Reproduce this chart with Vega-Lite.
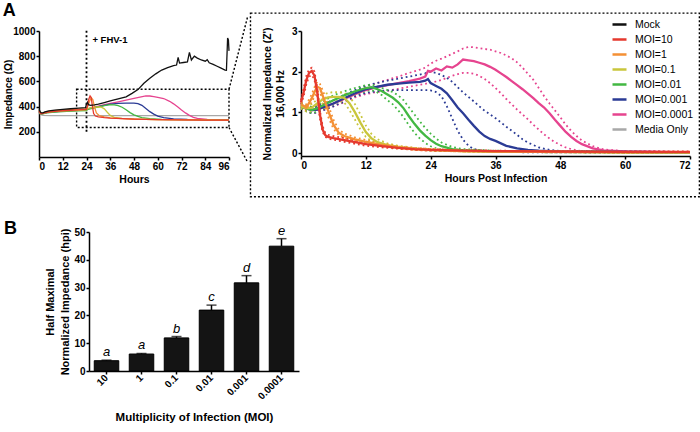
{
"$schema": "https://vega.github.io/schema/vega-lite/v6.json",
"background": "white",
"padding": {"left": 2, "top": 2, "right": 0, "bottom": 0},
"config": {
  "font": "Liberation Sans",
  "view": {"stroke": null},
  "axis": {"grid": false, "labelOverlap": false, "domainColor": "black", "domainWidth": 1.5, "tickColor": "black", "tickWidth": 1.5, "tickSize": 3, "labelPadding": 1, "labelFont": "Liberation Sans", "labelFontWeight": "bold", "labelFontSize": 10, "labelColor": "black", "titleFont": "Liberation Sans", "titleFontWeight": "bold", "titleFontSize": 10.5, "titleColor": "black"},
  "title": {"font": "Liberation Sans", "fontWeight": "bold", "fontSize": 18, "color": "black", "anchor": "start"}
},
"datasets": {
  "left": [
    {"g":"Media Only","h":0,"z":350},{"g":"Media Only","h":1,"z":335},{"g":"Media Only","h":2,"z":330},{"g":"Media Only","h":6,"z":328},{"g":"Media Only","h":24,"z":328},{"g":"Media Only","h":48,"z":328},{"g":"Media Only","h":72,"z":328},{"g":"Media Only","h":96,"z":328},
    {"g":"MOI=0.0001","h":0,"z":358},{"g":"MOI=0.0001","h":1,"z":342},{"g":"MOI=0.0001","h":2,"z":344},{"g":"MOI=0.0001","h":4,"z":352},{"g":"MOI=0.0001","h":8,"z":359},{"g":"MOI=0.0001","h":12,"z":364},{"g":"MOI=0.0001","h":16,"z":367},{"g":"MOI=0.0001","h":20,"z":370},{"g":"MOI=0.0001","h":24,"z":372},{"g":"MOI=0.0001","h":24.5,"z":381},{"g":"MOI=0.0001","h":27,"z":392},{"g":"MOI=0.0001","h":30,"z":404},{"g":"MOI=0.0001","h":33,"z":415},{"g":"MOI=0.0001","h":36,"z":425},{"g":"MOI=0.0001","h":40,"z":438},{"g":"MOI=0.0001","h":44,"z":452},{"g":"MOI=0.0001","h":48,"z":466},{"g":"MOI=0.0001","h":51,"z":476},{"g":"MOI=0.0001","h":54,"z":485},{"g":"MOI=0.0001","h":56,"z":484},{"g":"MOI=0.0001","h":58,"z":480},{"g":"MOI=0.0001","h":60,"z":474},{"g":"MOI=0.0001","h":63,"z":464},{"g":"MOI=0.0001","h":66,"z":442},{"g":"MOI=0.0001","h":68,"z":422},{"g":"MOI=0.0001","h":70,"z":398},{"g":"MOI=0.0001","h":72,"z":373},{"g":"MOI=0.0001","h":74,"z":350},{"g":"MOI=0.0001","h":76,"z":330},{"g":"MOI=0.0001","h":78,"z":315},{"g":"MOI=0.0001","h":80,"z":306},{"g":"MOI=0.0001","h":85,"z":299},{"g":"MOI=0.0001","h":96,"z":296},
    {"g":"MOI=0.001","h":0,"z":360},{"g":"MOI=0.001","h":1,"z":344},{"g":"MOI=0.001","h":2,"z":346},{"g":"MOI=0.001","h":4,"z":354},{"g":"MOI=0.001","h":8,"z":361},{"g":"MOI=0.001","h":12,"z":365},{"g":"MOI=0.001","h":16,"z":368},{"g":"MOI=0.001","h":20,"z":371},{"g":"MOI=0.001","h":24,"z":373},{"g":"MOI=0.001","h":24.5,"z":382},{"g":"MOI=0.001","h":27,"z":390},{"g":"MOI=0.001","h":30,"z":400},{"g":"MOI=0.001","h":33,"z":410},{"g":"MOI=0.001","h":36,"z":419},{"g":"MOI=0.001","h":40,"z":425},{"g":"MOI=0.001","h":44,"z":427},{"g":"MOI=0.001","h":48,"z":427},{"g":"MOI=0.001","h":50,"z":424},{"g":"MOI=0.001","h":52,"z":410},{"g":"MOI=0.001","h":54,"z":385},{"g":"MOI=0.001","h":56,"z":360},{"g":"MOI=0.001","h":58,"z":340},{"g":"MOI=0.001","h":60,"z":325},{"g":"MOI=0.001","h":63,"z":312},{"g":"MOI=0.001","h":68,"z":302},{"g":"MOI=0.001","h":75,"z":298},{"g":"MOI=0.001","h":96,"z":294},
    {"g":"MOI=0.01","h":0,"z":355},{"g":"MOI=0.01","h":1,"z":340},{"g":"MOI=0.01","h":2,"z":342},{"g":"MOI=0.01","h":4,"z":350},{"g":"MOI=0.01","h":8,"z":357},{"g":"MOI=0.01","h":12,"z":361},{"g":"MOI=0.01","h":16,"z":364},{"g":"MOI=0.01","h":20,"z":366},{"g":"MOI=0.01","h":24,"z":368},{"g":"MOI=0.01","h":24.5,"z":378},{"g":"MOI=0.01","h":27,"z":386},{"g":"MOI=0.01","h":30,"z":398},{"g":"MOI=0.01","h":33,"z":408},{"g":"MOI=0.01","h":36,"z":416},{"g":"MOI=0.01","h":38,"z":414},{"g":"MOI=0.01","h":40,"z":408},{"g":"MOI=0.01","h":42,"z":395},{"g":"MOI=0.01","h":44,"z":375},{"g":"MOI=0.01","h":46,"z":352},{"g":"MOI=0.01","h":48,"z":335},{"g":"MOI=0.01","h":50,"z":322},{"g":"MOI=0.01","h":52,"z":313},{"g":"MOI=0.01","h":56,"z":304},{"g":"MOI=0.01","h":62,"z":299},{"g":"MOI=0.01","h":72,"z":296},{"g":"MOI=0.01","h":96,"z":293},
    {"g":"MOI=0.1","h":0,"z":362},{"g":"MOI=0.1","h":1,"z":345},{"g":"MOI=0.1","h":2,"z":347},{"g":"MOI=0.1","h":4,"z":355},{"g":"MOI=0.1","h":8,"z":362},{"g":"MOI=0.1","h":12,"z":366},{"g":"MOI=0.1","h":16,"z":369},{"g":"MOI=0.1","h":20,"z":371},{"g":"MOI=0.1","h":24,"z":374},{"g":"MOI=0.1","h":24.5,"z":385},{"g":"MOI=0.1","h":26,"z":390},{"g":"MOI=0.1","h":28,"z":395},{"g":"MOI=0.1","h":30,"z":398},{"g":"MOI=0.1","h":31.5,"z":396},{"g":"MOI=0.1","h":33,"z":382},{"g":"MOI=0.1","h":34.5,"z":355},{"g":"MOI=0.1","h":36,"z":330},{"g":"MOI=0.1","h":38,"z":315},{"g":"MOI=0.1","h":42,"z":306},{"g":"MOI=0.1","h":48,"z":300},{"g":"MOI=0.1","h":60,"z":296},{"g":"MOI=0.1","h":96,"z":293},
    {"g":"MOI=1","h":0,"z":370},{"g":"MOI=1","h":0.5,"z":356},{"g":"MOI=1","h":1,"z":348},{"g":"MOI=1","h":2,"z":350},{"g":"MOI=1","h":4,"z":360},{"g":"MOI=1","h":8,"z":368},{"g":"MOI=1","h":12,"z":373},{"g":"MOI=1","h":16,"z":377},{"g":"MOI=1","h":20,"z":380},{"g":"MOI=1","h":24,"z":383},{"g":"MOI=1","h":24.6,"z":400},{"g":"MOI=1","h":25.5,"z":440},{"g":"MOI=1","h":26.4,"z":470},{"g":"MOI=1","h":27.2,"z":455},{"g":"MOI=1","h":28,"z":400},{"g":"MOI=1","h":29,"z":350},{"g":"MOI=1","h":30.5,"z":328},{"g":"MOI=1","h":33,"z":318},{"g":"MOI=1","h":36,"z":310},{"g":"MOI=1","h":42,"z":304},{"g":"MOI=1","h":48,"z":300},{"g":"MOI=1","h":60,"z":296},{"g":"MOI=1","h":72,"z":294},{"g":"MOI=1","h":96,"z":293},
    {"g":"MOI=10","h":0,"z":365},{"g":"MOI=10","h":0.5,"z":350},{"g":"MOI=10","h":1,"z":343},{"g":"MOI=10","h":2,"z":346},{"g":"MOI=10","h":4,"z":355},{"g":"MOI=10","h":8,"z":362},{"g":"MOI=10","h":12,"z":367},{"g":"MOI=10","h":16,"z":371},{"g":"MOI=10","h":20,"z":374},{"g":"MOI=10","h":24,"z":378},{"g":"MOI=10","h":24.5,"z":410},{"g":"MOI=10","h":25.2,"z":460},{"g":"MOI=10","h":25.8,"z":485},{"g":"MOI=10","h":26.4,"z":470},{"g":"MOI=10","h":27,"z":400},{"g":"MOI=10","h":27.6,"z":345},{"g":"MOI=10","h":28.5,"z":325},{"g":"MOI=10","h":30,"z":318},{"g":"MOI=10","h":33,"z":312},{"g":"MOI=10","h":36,"z":308},{"g":"MOI=10","h":42,"z":304},{"g":"MOI=10","h":48,"z":300},{"g":"MOI=10","h":60,"z":296},{"g":"MOI=10","h":72,"z":294},{"g":"MOI=10","h":84,"z":293},{"g":"MOI=10","h":96,"z":293},
    {"g":"Mock","h":0,"z":378},{"g":"Mock","h":0.5,"z":362},{"g":"Mock","h":1,"z":352},{"g":"Mock","h":2,"z":350},{"g":"Mock","h":3,"z":358},{"g":"Mock","h":5,"z":366},{"g":"Mock","h":8,"z":372},{"g":"Mock","h":12,"z":378},{"g":"Mock","h":16,"z":383},{"g":"Mock","h":20,"z":388},{"g":"Mock","h":23.5,"z":392},{"g":"Mock","h":24,"z":420},{"g":"Mock","h":24.5,"z":434},{"g":"Mock","h":25,"z":415},{"g":"Mock","h":26,"z":410},{"g":"Mock","h":28,"z":413},{"g":"Mock","h":30,"z":420},{"g":"Mock","h":33,"z":432},{"g":"Mock","h":36,"z":445},{"g":"Mock","h":40,"z":462},{"g":"Mock","h":44,"z":478},{"g":"Mock","h":47,"z":505},{"g":"Mock","h":50,"z":535},{"g":"Mock","h":53,"z":585},{"g":"Mock","h":56,"z":625},{"g":"Mock","h":59,"z":660},{"g":"Mock","h":62,"z":690},{"g":"Mock","h":65,"z":710},{"g":"Mock","h":68,"z":725},{"g":"Mock","h":69.5,"z":730},{"g":"Mock","h":70.3,"z":790},{"g":"Mock","h":71,"z":745},{"g":"Mock","h":73,"z":750},{"g":"Mock","h":75,"z":755},{"g":"Mock","h":76,"z":830},{"g":"Mock","h":77,"z":770},{"g":"Mock","h":78.5,"z":800},{"g":"Mock","h":80,"z":785},{"g":"Mock","h":82,"z":770},{"g":"Mock","h":84,"z":760},{"g":"Mock","h":85,"z":772},{"g":"Mock","h":86,"z":748},{"g":"Mock","h":88,"z":735},{"g":"Mock","h":90,"z":720},{"g":"Mock","h":92,"z":705},{"g":"Mock","h":94,"z":690},{"g":"Mock","h":94.7,"z":688},{"g":"Mock","h":95.3,"z":945},{"g":"Mock","h":95.7,"z":930},{"g":"Mock","h":96,"z":842}
  ],
  "right": [
    {"g":"MOI=0.0001","t":0,"m":1.15,"lo":1.1,"hi":1.2},{"g":"MOI=0.0001","t":1,"m":1.1,"lo":1.03,"hi":1.17},{"g":"MOI=0.0001","t":2,"m":1.06,"lo":0.98,"hi":1.13},{"g":"MOI=0.0001","t":3,"m":1.07,"lo":1.0,"hi":1.14},{"g":"MOI=0.0001","t":4,"m":1.12,"lo":1.05,"hi":1.2},{"g":"MOI=0.0001","t":6,"m":1.22,"lo":1.15,"hi":1.3},{"g":"MOI=0.0001","t":8,"m":1.33,"lo":1.25,"hi":1.42},{"g":"MOI=0.0001","t":10,"m":1.45,"lo":1.37,"hi":1.52},{"g":"MOI=0.0001","t":12,"m":1.55,"lo":1.45,"hi":1.63},{"g":"MOI=0.0001","t":14,"m":1.62,"lo":1.5,"hi":1.72},{"g":"MOI=0.0001","t":16,"m":1.67,"lo":1.53,"hi":1.8},{"g":"MOI=0.0001","t":18,"m":1.72,"lo":1.58,"hi":1.88},{"g":"MOI=0.0001","t":20,"m":1.77,"lo":1.63,"hi":1.97},{"g":"MOI=0.0001","t":22,"m":1.83,"lo":1.68,"hi":2.05},{"g":"MOI=0.0001","t":23,"m":1.88,"lo":1.7,"hi":2.1},{"g":"MOI=0.0001","t":23.5,"m":2.02,"lo":1.72,"hi":2.15},{"g":"MOI=0.0001","t":24,"m":2.0,"lo":1.72,"hi":2.2},{"g":"MOI=0.0001","t":25,"m":2.08,"lo":1.76,"hi":2.27},{"g":"MOI=0.0001","t":26,"m":2.03,"lo":1.8,"hi":2.32},{"g":"MOI=0.0001","t":27,"m":2.13,"lo":1.85,"hi":2.38},{"g":"MOI=0.0001","t":28,"m":2.1,"lo":1.9,"hi":2.44},{"g":"MOI=0.0001","t":29,"m":2.18,"lo":1.94,"hi":2.5},{"g":"MOI=0.0001","t":30,"m":2.3,"lo":1.97,"hi":2.57},{"g":"MOI=0.0001","t":31,"m":2.28,"lo":1.97,"hi":2.61},{"g":"MOI=0.0001","t":32,"m":2.26,"lo":1.95,"hi":2.6},{"g":"MOI=0.0001","t":33,"m":2.22,"lo":1.9,"hi":2.58},{"g":"MOI=0.0001","t":34,"m":2.18,"lo":1.82,"hi":2.56},{"g":"MOI=0.0001","t":35,"m":2.12,"lo":1.72,"hi":2.54},{"g":"MOI=0.0001","t":36,"m":2.05,"lo":1.6,"hi":2.5},{"g":"MOI=0.0001","t":37,"m":1.96,"lo":1.47,"hi":2.46},{"g":"MOI=0.0001","t":38,"m":1.87,"lo":1.33,"hi":2.4},{"g":"MOI=0.0001","t":39,"m":1.77,"lo":1.2,"hi":2.33},{"g":"MOI=0.0001","t":40,"m":1.67,"lo":1.07,"hi":2.23},{"g":"MOI=0.0001","t":41,"m":1.57,"lo":0.95,"hi":2.1},{"g":"MOI=0.0001","t":42,"m":1.46,"lo":0.83,"hi":1.95},{"g":"MOI=0.0001","t":43,"m":1.35,"lo":0.7,"hi":1.8},{"g":"MOI=0.0001","t":44,"m":1.23,"lo":0.58,"hi":1.6},{"g":"MOI=0.0001","t":45,"m":1.12,"lo":0.46,"hi":1.4},{"g":"MOI=0.0001","t":46,"m":0.98,"lo":0.36,"hi":1.22},{"g":"MOI=0.0001","t":47,"m":0.82,"lo":0.27,"hi":1.05},{"g":"MOI=0.0001","t":48,"m":0.67,"lo":0.2,"hi":0.88},{"g":"MOI=0.0001","t":49,"m":0.52,"lo":0.14,"hi":0.7},{"g":"MOI=0.0001","t":50,"m":0.4,"lo":0.1,"hi":0.55},{"g":"MOI=0.0001","t":51,"m":0.3,"lo":0.07,"hi":0.42},{"g":"MOI=0.0001","t":52,"m":0.22,"lo":0.05,"hi":0.31},{"g":"MOI=0.0001","t":54,"m":0.12,"lo":0.04,"hi":0.17},{"g":"MOI=0.0001","t":56,"m":0.07,"lo":0.03,"hi":0.09},{"g":"MOI=0.0001","t":60,"m":0.04,"lo":0.02,"hi":0.05},{"g":"MOI=0.0001","t":66,"m":0.03,"lo":0.01,"hi":0.04},{"g":"MOI=0.0001","t":72,"m":0.02,"lo":0.01,"hi":0.03},
    {"g":"MOI=0.001","t":0,"m":1.15,"lo":1.1,"hi":1.2},{"g":"MOI=0.001","t":1,"m":1.1,"lo":1.03,"hi":1.17},{"g":"MOI=0.001","t":2,"m":1.06,"lo":0.98,"hi":1.13},{"g":"MOI=0.001","t":3,"m":1.07,"lo":1.0,"hi":1.14},{"g":"MOI=0.001","t":4,"m":1.12,"lo":1.05,"hi":1.2},{"g":"MOI=0.001","t":6,"m":1.22,"lo":1.15,"hi":1.3},{"g":"MOI=0.001","t":8,"m":1.35,"lo":1.27,"hi":1.43},{"g":"MOI=0.001","t":10,"m":1.47,"lo":1.4,"hi":1.55},{"g":"MOI=0.001","t":12,"m":1.57,"lo":1.48,"hi":1.66},{"g":"MOI=0.001","t":14,"m":1.63,"lo":1.52,"hi":1.72},{"g":"MOI=0.001","t":16,"m":1.68,"lo":1.54,"hi":1.78},{"g":"MOI=0.001","t":18,"m":1.71,"lo":1.55,"hi":1.83},{"g":"MOI=0.001","t":20,"m":1.73,"lo":1.55,"hi":1.88},{"g":"MOI=0.001","t":22,"m":1.75,"lo":1.55,"hi":1.93},{"g":"MOI=0.001","t":23,"m":1.78,"lo":1.55,"hi":1.96},{"g":"MOI=0.001","t":23.5,"m":1.82,"lo":1.55,"hi":1.99},{"g":"MOI=0.001","t":24,"m":1.72,"lo":1.54,"hi":2.0},{"g":"MOI=0.001","t":25,"m":1.65,"lo":1.5,"hi":1.97},{"g":"MOI=0.001","t":26,"m":1.58,"lo":1.4,"hi":1.92},{"g":"MOI=0.001","t":27,"m":1.47,"lo":1.15,"hi":1.85},{"g":"MOI=0.001","t":28,"m":1.3,"lo":0.85,"hi":1.75},{"g":"MOI=0.001","t":29,"m":1.12,"lo":0.55,"hi":1.62},{"g":"MOI=0.001","t":30,"m":0.98,"lo":0.33,"hi":1.49},{"g":"MOI=0.001","t":31,"m":0.82,"lo":0.18,"hi":1.38},{"g":"MOI=0.001","t":32,"m":0.67,"lo":0.1,"hi":1.27},{"g":"MOI=0.001","t":33,"m":0.53,"lo":0.07,"hi":1.15},{"g":"MOI=0.001","t":34,"m":0.42,"lo":0.05,"hi":1.04},{"g":"MOI=0.001","t":35,"m":0.35,"lo":0.04,"hi":0.95},{"g":"MOI=0.001","t":36,"m":0.3,"lo":0.04,"hi":0.86},{"g":"MOI=0.001","t":38,"m":0.18,"lo":0.03,"hi":0.65},{"g":"MOI=0.001","t":40,"m":0.12,"lo":0.03,"hi":0.45},{"g":"MOI=0.001","t":41,"m":0.1,"lo":0.02,"hi":0.34},{"g":"MOI=0.001","t":42,"m":0.08,"lo":0.02,"hi":0.26},{"g":"MOI=0.001","t":44,"m":0.06,"lo":0.02,"hi":0.14},{"g":"MOI=0.001","t":46,"m":0.05,"lo":0.02,"hi":0.08},{"g":"MOI=0.001","t":48,"m":0.04,"lo":0.02,"hi":0.05},{"g":"MOI=0.001","t":60,"m":0.03,"lo":0.01,"hi":0.04},{"g":"MOI=0.001","t":72,"m":0.02,"lo":0.01,"hi":0.03},
    {"g":"MOI=0.01","t":0,"m":1.15,"lo":1.1,"hi":1.2},{"g":"MOI=0.01","t":1,"m":1.1,"lo":1.03,"hi":1.17},{"g":"MOI=0.01","t":2,"m":1.06,"lo":0.98,"hi":1.13},{"g":"MOI=0.01","t":3,"m":1.1,"lo":1.02,"hi":1.18},{"g":"MOI=0.01","t":4,"m":1.17,"lo":1.08,"hi":1.26},{"g":"MOI=0.01","t":6,"m":1.3,"lo":1.2,"hi":1.42},{"g":"MOI=0.01","t":8,"m":1.42,"lo":1.32,"hi":1.52},{"g":"MOI=0.01","t":10,"m":1.52,"lo":1.43,"hi":1.6},{"g":"MOI=0.01","t":12,"m":1.6,"lo":1.52,"hi":1.67},{"g":"MOI=0.01","t":13,"m":1.62,"lo":1.55,"hi":1.68},{"g":"MOI=0.01","t":14,"m":1.58,"lo":1.5,"hi":1.65},{"g":"MOI=0.01","t":15,"m":1.52,"lo":1.42,"hi":1.6},{"g":"MOI=0.01","t":16,"m":1.44,"lo":1.3,"hi":1.55},{"g":"MOI=0.01","t":17,"m":1.36,"lo":1.2,"hi":1.5},{"g":"MOI=0.01","t":18,"m":1.25,"lo":1.05,"hi":1.42},{"g":"MOI=0.01","t":19,"m":1.1,"lo":0.88,"hi":1.3},{"g":"MOI=0.01","t":20,"m":0.9,"lo":0.68,"hi":1.12},{"g":"MOI=0.01","t":21,"m":0.72,"lo":0.5,"hi":0.95},{"g":"MOI=0.01","t":22,"m":0.56,"lo":0.36,"hi":0.78},{"g":"MOI=0.01","t":23,"m":0.43,"lo":0.25,"hi":0.62},{"g":"MOI=0.01","t":24,"m":0.32,"lo":0.17,"hi":0.48},{"g":"MOI=0.01","t":25,"m":0.23,"lo":0.12,"hi":0.36},{"g":"MOI=0.01","t":26,"m":0.17,"lo":0.09,"hi":0.26},{"g":"MOI=0.01","t":28,"m":0.1,"lo":0.06,"hi":0.15},{"g":"MOI=0.01","t":30,"m":0.07,"lo":0.05,"hi":0.1},{"g":"MOI=0.01","t":36,"m":0.04,"lo":0.03,"hi":0.06},{"g":"MOI=0.01","t":48,"m":0.03,"lo":0.02,"hi":0.04},{"g":"MOI=0.01","t":72,"m":0.02,"lo":0.01,"hi":0.03},
    {"g":"MOI=0.1","t":0,"m":1.15,"lo":1.1,"hi":1.2},{"g":"MOI=0.1","t":1,"m":1.1,"lo":1.02,"hi":1.17},{"g":"MOI=0.1","t":2,"m":1.12,"lo":1.03,"hi":1.2},{"g":"MOI=0.1","t":3,"m":1.22,"lo":1.12,"hi":1.32},{"g":"MOI=0.1","t":4,"m":1.32,"lo":1.22,"hi":1.43},{"g":"MOI=0.1","t":5,"m":1.37,"lo":1.27,"hi":1.48},{"g":"MOI=0.1","t":6,"m":1.38,"lo":1.28,"hi":1.5},{"g":"MOI=0.1","t":7,"m":1.38,"lo":1.28,"hi":1.5},{"g":"MOI=0.1","t":8,"m":1.36,"lo":1.25,"hi":1.48},{"g":"MOI=0.1","t":9,"m":1.22,"lo":1.05,"hi":1.38},{"g":"MOI=0.1","t":10,"m":1.0,"lo":0.82,"hi":1.2},{"g":"MOI=0.1","t":11,"m":0.75,"lo":0.58,"hi":0.95},{"g":"MOI=0.1","t":12,"m":0.52,"lo":0.4,"hi":0.68},{"g":"MOI=0.1","t":13,"m":0.37,"lo":0.3,"hi":0.48},{"g":"MOI=0.1","t":14,"m":0.28,"lo":0.23,"hi":0.35},{"g":"MOI=0.1","t":16,"m":0.2,"lo":0.16,"hi":0.24},{"g":"MOI=0.1","t":18,"m":0.15,"lo":0.12,"hi":0.18},{"g":"MOI=0.1","t":21,"m":0.11,"lo":0.09,"hi":0.13},{"g":"MOI=0.1","t":24,"m":0.08,"lo":0.06,"hi":0.1},{"g":"MOI=0.1","t":30,"m":0.05,"lo":0.04,"hi":0.07},{"g":"MOI=0.1","t":36,"m":0.04,"lo":0.03,"hi":0.05},{"g":"MOI=0.1","t":48,"m":0.03,"lo":0.02,"hi":0.04},{"g":"MOI=0.1","t":72,"m":0.02,"lo":0.01,"hi":0.03},
    {"g":"MOI=1","t":0,"m":1.2,"lo":1.15,"hi":1.25},{"g":"MOI=1","t":1,"m":1.12,"lo":1.05,"hi":1.2},{"g":"MOI=1","t":2,"m":1.35,"lo":1.25,"hi":1.45},{"g":"MOI=1","t":2.5,"m":1.5,"lo":1.4,"hi":1.62},{"g":"MOI=1","t":3,"m":1.63,"lo":1.52,"hi":1.75},{"g":"MOI=1","t":3.5,"m":1.6,"lo":1.5,"hi":1.7},{"g":"MOI=1","t":4,"m":1.42,"lo":1.3,"hi":1.55},{"g":"MOI=1","t":5,"m":1.05,"lo":0.9,"hi":1.2},{"g":"MOI=1","t":6,"m":0.7,"lo":0.6,"hi":0.82},{"g":"MOI=1","t":7,"m":0.5,"lo":0.44,"hi":0.58},{"g":"MOI=1","t":8,"m":0.42,"lo":0.37,"hi":0.48},{"g":"MOI=1","t":10,"m":0.34,"lo":0.3,"hi":0.39},{"g":"MOI=1","t":12,"m":0.28,"lo":0.24,"hi":0.32},{"g":"MOI=1","t":15,"m":0.2,"lo":0.17,"hi":0.24},{"g":"MOI=1","t":18,"m":0.14,"lo":0.12,"hi":0.17},{"g":"MOI=1","t":21,"m":0.1,"lo":0.08,"hi":0.13},{"g":"MOI=1","t":24,"m":0.08,"lo":0.06,"hi":0.1},{"g":"MOI=1","t":30,"m":0.05,"lo":0.04,"hi":0.07},{"g":"MOI=1","t":36,"m":0.04,"lo":0.03,"hi":0.05},{"g":"MOI=1","t":48,"m":0.03,"lo":0.02,"hi":0.04},{"g":"MOI=1","t":60,"m":0.02,"lo":0.01,"hi":0.03},{"g":"MOI=1","t":72,"m":0.02,"lo":0.01,"hi":0.03},
    {"g":"MOI=10","t":0,"m":1.25,"lo":1.2,"hi":1.3},{"g":"MOI=10","t":0.5,"m":1.5,"lo":1.4,"hi":1.6},{"g":"MOI=10","t":1,"m":1.8,"lo":1.7,"hi":1.9},{"g":"MOI=10","t":1.5,"m":1.97,"lo":1.88,"hi":2.06},{"g":"MOI=10","t":2,"m":2.02,"lo":1.92,"hi":2.1},{"g":"MOI=10","t":2.5,"m":1.9,"lo":1.8,"hi":2.0},{"g":"MOI=10","t":3,"m":1.5,"lo":1.4,"hi":1.62},{"g":"MOI=10","t":3.5,"m":0.95,"lo":0.85,"hi":1.05},{"g":"MOI=10","t":4,"m":0.58,"lo":0.52,"hi":0.66},{"g":"MOI=10","t":4.5,"m":0.44,"lo":0.4,"hi":0.5},{"g":"MOI=10","t":5,"m":0.4,"lo":0.36,"hi":0.45},{"g":"MOI=10","t":6,"m":0.37,"lo":0.33,"hi":0.42},{"g":"MOI=10","t":8,"m":0.32,"lo":0.28,"hi":0.37},{"g":"MOI=10","t":10,"m":0.27,"lo":0.23,"hi":0.31},{"g":"MOI=10","t":12,"m":0.22,"lo":0.18,"hi":0.26},{"g":"MOI=10","t":15,"m":0.17,"lo":0.14,"hi":0.2},{"g":"MOI=10","t":18,"m":0.13,"lo":0.11,"hi":0.16},{"g":"MOI=10","t":21,"m":0.1,"lo":0.08,"hi":0.12},{"g":"MOI=10","t":24,"m":0.08,"lo":0.06,"hi":0.1},{"g":"MOI=10","t":30,"m":0.06,"lo":0.05,"hi":0.08},{"g":"MOI=10","t":36,"m":0.05,"lo":0.04,"hi":0.06},{"g":"MOI=10","t":48,"m":0.04,"lo":0.03,"hi":0.05},{"g":"MOI=10","t":60,"m":0.03,"lo":0.02,"hi":0.04},{"g":"MOI=10","t":72,"m":0.03,"lo":0.02,"hi":0.04}
  ],
  "bars": [
    {"moi":"10","v":3.7,"e":3.9,"l":"a"},
    {"moi":"1","v":6.1,"e":6.3,"l":"a"},
    {"moi":"0.1","v":11.9,"e":12.4,"l":"b"},
    {"moi":"0.01","v":21.9,"e":23.7,"l":"c"},
    {"moi":"0.001","v":31.7,"e":34.3,"l":"d"},
    {"moi":"0.0001","v":44.9,"e":47.6,"l":"e"}
  ]
},
"resolve": {"scale": {"color": "independent"}, "legend": {"color": "independent"}},
"spacing": 21,
"vconcat": [
  {
    "title": {"text": "A", "offset": -8, "dx": -1},
    "spacing": 0,
    "resolve": {"scale": {"color": "independent"}, "legend": {"color": "independent"}},
    "hconcat": [
      {
        "width": 190, "height": 126,
        "layer": [
          {
            "data": {"values": [{}]},
            "mark": {"type": "rule", "strokeDash": [2, 2.5], "strokeWidth": 1.8, "color": "black"},
            "encoding": {"x": {"datum": 24}, "y": {"datum": 200}, "y2": {"datum": 1019}}
          },
          {
            "data": {"values": [{}]},
            "mark": {"type": "text", "text": "+ FHV-1", "align": "left", "baseline": "middle", "fontWeight": "bold", "fontSize": 9.5, "color": "black"},
            "encoding": {"x": {"datum": 27}, "y": {"datum": 932}}
          },
          {
            "data": {"values": [{}]},
            "mark": {"type": "rect", "fill": "transparent", "stroke": "black", "strokeDash": [2, 2], "strokeWidth": 1.4},
            "encoding": {"x": {"datum": 19}, "x2": {"datum": 96}, "y": {"datum": 234}, "y2": {"datum": 538}}
          },
          {
            "data": {"values": [{}]},
            "mark": {"type": "rule", "strokeDash": [2, 2], "strokeWidth": 1.4, "color": "black"},
            "encoding": {"x": {"datum": 96}, "x2": {"datum": 105.5}, "y": {"datum": 538}, "y2": {"datum": 1119}}
          },
          {
            "data": {"values": [{}]},
            "mark": {"type": "rule", "strokeDash": [2, 2], "strokeWidth": 1.4, "color": "black"},
            "encoding": {"x": {"datum": 96}, "x2": {"datum": 105.5}, "y": {"datum": 234}, "y2": {"datum": -44}}
          },
          {
            "data": {"name": "left"},
            "mark": {"type": "line", "strokeWidth": 1.3},
            "encoding": {
              "x": {"field": "h", "type": "quantitative", "scale": {"domain": [0, 96], "nice": false}, "axis": {"values": [0,12,24,36,48,60,72,84,96], "tickCount": 50, "format": "d", "labelOverlap": false, "title": "Hours", "titlePadding": 3}},
              "y": {"field": "z", "type": "quantitative", "scale": {"domain": [200, 1000], "nice": false}, "axis": {"values": [200,400,600,800,1000], "tickCount": 50, "labelOverlap": false, "format": "d", "title": "Impedance (Ω)", "titleFontSize": 10, "titlePadding": -1}},
              "color": {"field": "g", "type": "nominal", "scale": {"domain": ["Mock","MOI=10","MOI=1","MOI=0.1","MOI=0.01","MOI=0.001","MOI=0.0001","Media Only"], "range": ["#111111","#e5392e","#f49035","#c9c63c","#43b843","#2b3b95","#e6448f","#a8a8a8"]}, "legend": null}
            }
          }
        ]
      },
      {
        "width": 389, "height": 125,
        "layer": [
          {
            "data": {"values": [{}]},
            "mark": {"type": "rect", "fill": "transparent", "stroke": "black", "strokeDash": [2, 2], "strokeWidth": 1.4},
            "encoding": {"x": {"datum": -9.35}, "x2": {"datum": 73.74}, "y": {"datum": -1.07}, "y2": {"datum": 3.44}}
          },
          {
            "data": {"name": "right"},
            "mark": {"type": "line", "strokeWidth": 1.8, "strokeDash": [1.8, 3]},
            "encoding": {
              "x": {"field": "t", "type": "quantitative"},
              "y": {"field": "lo", "type": "quantitative"},
              "color": {"field": "g", "type": "nominal"}
            }
          },
          {
            "data": {"name": "right"},
            "mark": {"type": "line", "strokeWidth": 1.8, "strokeDash": [1.8, 3]},
            "encoding": {
              "x": {"field": "t", "type": "quantitative"},
              "y": {"field": "hi", "type": "quantitative"},
              "color": {"field": "g", "type": "nominal"}
            }
          },
          {
            "data": {"name": "right"},
            "mark": {"type": "line", "strokeWidth": 2.3},
            "encoding": {
              "x": {"field": "t", "type": "quantitative", "scale": {"domain": [0, 72], "nice": false}, "axis": {"values": [0,12,24,36,48,60,72], "tickCount": 50, "format": "d", "labelOverlap": false, "title": "Hours Post Infection", "titlePadding": 3}},
              "y": {"field": "m", "type": "quantitative", "scale": {"domain": [-0.07, 3], "nice": false}, "axis": {"values": [0,1,2,3], "tickCount": 50, "format": "d", "labelOverlap": false, "title": ["Normalized Impedance (Z')", "16,000 Hz"], "titleLineHeight": 13, "titlePadding": 6}},
              "color": {"field": "g", "type": "nominal", "scale": {"domain": ["Mock","MOI=10","MOI=1","MOI=0.1","MOI=0.01","MOI=0.001","MOI=0.0001","Media Only"], "range": ["#111111","#e5392e","#f49035","#c9c63c","#43b843","#2b3b95","#e6448f","#a8a8a8"]},
                "legend": {"title": null, "orient": "none", "legendX": 310, "legendY": -15, "padding": 0, "symbolType": "stroke", "symbolSize": 196, "symbolStrokeWidth": 2.5, "symbolDash": [1, 0], "labelFont": "Liberation Sans", "labelFontSize": 10.5, "labelFontWeight": "normal", "labelColor": "black", "labelOffset": 7, "rowPadding": 1}}
            }
          }
        ]
      }
    ]
  },
  {
    "spacing": -37,
    "hconcat": [
      {
        "width": 1, "height": 1,
        "data": {"values": [{}]},
        "mark": {"type": "text", "text": ""}
      },
      {
        "title": {"text": "B", "offset": -13, "dx": -41},
        "width": 210, "height": 139,
        "data": {"name": "bars"},
        "layer": [
          {
            "mark": {"type": "rule", "strokeWidth": 1.5, "color": "black"},
            "encoding": {"x": {"field": "moi", "type": "nominal", "sort": null}, "y": {"field": "v", "type": "quantitative"}, "y2": {"field": "e"}}
          },
          {
            "mark": {"type": "tick", "thickness": 1.5, "size": 10, "color": "black"},
            "encoding": {"x": {"field": "moi", "type": "nominal", "sort": null}, "y": {"field": "e", "type": "quantitative"}}
          },
          {
            "mark": {"type": "text", "fontStyle": "italic", "fontSize": 13, "dy": -4, "baseline": "alphabetic", "color": "black"},
            "encoding": {"x": {"field": "moi", "type": "nominal", "sort": null}, "y": {"field": "e", "type": "quantitative"}, "text": {"field": "l"}}
          },
          {
            "mark": {"type": "bar", "color": "#141414", "stroke": "black", "strokeWidth": 1},
            "encoding": {
              "x": {"field": "moi", "type": "nominal", "sort": null, "scale": {"paddingInner": 0.3, "paddingOuter": 0.15}, "axis": {"title": "Multiplicity of Infection (MOI)", "titleFontSize": 11.5, "labelAngle": -45, "labelOverlap": false, "titlePadding": 10, "labelPadding": 2}},
              "y": {"field": "v", "type": "quantitative", "scale": {"domain": [0, 50], "nice": false}, "axis": {"values": [0,10,20,30,40,50], "tickCount": 50, "format": "d", "labelOverlap": false, "title": ["Half Maximal", "Normalized Impedance (hpi)"], "titleFontSize": 11, "titleLineHeight": 15, "titlePadding": 3}}
            }
          }
        ]
      }
    ]
  }
]
}
